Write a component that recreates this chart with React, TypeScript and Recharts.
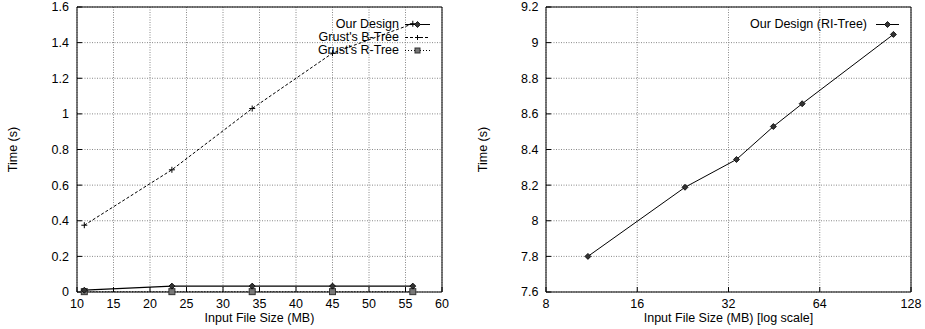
import React from 'react';
import { LineChart, Line, XAxis, YAxis, CartesianGrid, Legend } from 'recharts';

// ---- data ----
const sizes = [11, 23, 34, 45, 56];
const ourDesign = [0.01, 0.033, 0.033, 0.033, 0.033];
const bTree = [0.375, 0.686, 1.03, 1.341, 1.506];
const rTree = [0.002, 0.002, 0.002, 0.002, 0.002];

const riSizes = [11, 23, 34, 45, 56, 112];
const riTimes = [7.8, 8.188, 8.344, 8.529, 8.657, 9.046];

const leftXTicks = [10, 15, 20, 25, 30, 35, 40, 45, 50, 55, 60];
const leftYTicks = [0, 0.2, 0.4, 0.6, 0.8, 1, 1.2, 1.4, 1.6];
const rightXTicks = [8, 16, 32, 64, 128];
const rightYTicks = [7.6, 7.8, 8, 8.2, 8.4, 8.6, 8.8, 9, 9.2];

const leftData = sizes.map((s, i) => ({ size: s, our: ourDesign[i], btree: bTree[i], rtree: rTree[i] }));
const rightData = riSizes.map((s, i) => ({ size: s, ri: riTimes[i] }));

const FONT = '"Liberation Sans", Arial, Helvetica, sans-serif';
const FS = 12.5;
const tickStyle = { fontFamily: FONT, fontSize: FS, fill: '#000' };

// ---- markers ----
const Diamond = ({ cx, cy, r = 3 }: any) =>
  cx == null || cy == null ? null : (
    <path d={`M${cx},${cy - r}L${cx + r},${cy}L${cx},${cy + r}L${cx - r},${cy}Z`} fill="#333" stroke="#000" strokeWidth={0.8} />
  );
const Plus = ({ cx, cy, r = 2.5 }: any) =>
  cx == null || cy == null ? null : (
    <path d={`M${cx - r},${cy}H${cx + r}M${cx},${cy - r}V${cy + r}`} stroke="#000" strokeWidth={1} fill="none" />
  );
const Square = ({ cx, cy, r = 2.5 }: any) =>
  cx == null || cy == null ? null : (
    <rect x={cx - r} y={cy - r} width={2 * r} height={2 * r} fill="#777" stroke="#333" strokeWidth={1} />
  );

const markerFor = (kind: string, cx: number, cy: number) => {
  if (kind === 'diamond') return <Diamond cx={cx} cy={cy} />;
  if (kind === 'plus') return <Plus cx={cx} cy={cy} />;
  return <Square cx={cx} cy={cy} />;
};

type LegItem = { name: string; dash?: string; marker: string };

const makeLegend = (items: LegItem[], gap: number, len: number) => () => (
  <div style={{ fontFamily: FONT, fontSize: FS, color: '#000' }}>
    {items.map((it) => (
      <div key={it.name} style={{ display: 'flex', alignItems: 'center', justifyContent: 'flex-end', height: 13.3 }}>
        <span style={{ whiteSpace: 'nowrap', lineHeight: '13.3px' }}>{it.name}</span>
        <svg width={gap + len} height={13} style={{ display: 'block' }}>
          <line x1={gap} x2={gap + len} y1={6.5} y2={6.5} stroke="#000" strokeWidth={1} strokeDasharray={it.dash} />
          {markerFor(it.marker, gap + len / 2, 6.5)}
        </svg>
      </div>
    ))}
  </div>
);

const leftLegend = makeLegend(
  [
    { name: 'Our Design', marker: 'diamond' },
    { name: "Grust's B-Tree", dash: '3 2', marker: 'plus' },
    { name: "Grust's R-Tree", dash: '1 2', marker: 'square' },
  ],
  6,
  25
);
const rightLegend = makeLegend([{ name: 'Our Design (RI-Tree)', marker: 'diamond' }], 9, 23);

const gridProps = { stroke: '#888', strokeDasharray: '1 1.5', strokeWidth: 1 };

export default function App() {
  return (
    <div style={{ position: 'absolute', left: 0, top: 0, width: 925, height: 329, background: '#fff' }}>
      {/* Left chart */}
      <div style={{ position: 'absolute', left: 0, top: 0 }}>
        <LineChart width={462} height={329} data={leftData} margin={{ top: 0, right: 0, bottom: 0, left: 0 }}>
          <CartesianGrid {...gridProps} xAxisId="b" yAxisId="l" />
          <XAxis
            xAxisId="b"
            dataKey="size"
            type="number"
            domain={[10, 60]}
            ticks={leftXTicks}
            interval={0}
            height={37}
            tickSize={-5}
            tickMargin={12.5}
            tick={tickStyle}
            axisLine={{ stroke: '#000' }}
            tickLine={{ stroke: '#000' }}
          />
          <XAxis
            xAxisId="t"
            orientation="top"
            type="number"
            domain={[10, 60]}
            ticks={leftXTicks}
            interval={0}
            height={7}
            tickSize={-5}
            tick={false}
            axisLine={{ stroke: '#000' }}
            tickLine={{ stroke: '#000' }}
          />
          <YAxis
            yAxisId="l"
            type="number"
            domain={[0, 1.6]}
            ticks={leftYTicks}
            interval={0}
            width={77}
            tickSize={-5}
            tickMargin={13}
            tick={tickStyle}
            axisLine={{ stroke: '#000' }}
            tickLine={{ stroke: '#000' }}
          />
          <YAxis
            yAxisId="r"
            orientation="right"
            type="number"
            domain={[0, 1.6]}
            ticks={leftYTicks}
            interval={0}
            width={20}
            tickSize={-5}
            tick={false}
            axisLine={{ stroke: '#000' }}
            tickLine={{ stroke: '#000' }}
          />
          <Line xAxisId="b" yAxisId="l" dataKey="rtree" name="Grust's R-Tree" stroke="#000" strokeWidth={1} strokeDasharray="1 2" dot={<Square />} isAnimationActive={false} />
          <Line xAxisId="b" yAxisId="l" dataKey="btree" name="Grust's B-Tree" stroke="#000" strokeWidth={1} strokeDasharray="3 2" dot={<Plus />} isAnimationActive={false} />
          <Line xAxisId="b" yAxisId="l" dataKey="our" name="Our Design" stroke="#000" strokeWidth={1.2} dot={<Diamond />} isAnimationActive={false} />
          <Legend
            layout="vertical"
            align="center"
            verticalAlign="middle"
            content={leftLegend}
            wrapperStyle={{ top: 17.5, right: 32, left: 'auto', bottom: 'auto', width: 'auto' }}
          />
          <text x={13} y={149.5} transform="rotate(-90 13 149.5)" textAnchor="middle" dominantBaseline="central" fontFamily={FONT} fontSize={FS} fill="#000">
            Time (s)
          </text>
          <text x={259.5} y={321.5} textAnchor="middle" fontFamily={FONT} fontSize={FS} fill="#000">
            Input File Size (MB)
          </text>
        </LineChart>
      </div>

      {/* Right chart */}
      <div style={{ position: 'absolute', left: 462, top: 0 }}>
        <LineChart width={463} height={329} data={rightData} margin={{ top: 0, right: 0, bottom: 0, left: 0 }}>
          <CartesianGrid {...gridProps} xAxisId="b" yAxisId="l" />
          <XAxis
            xAxisId="b"
            dataKey="size"
            type="number"
            scale="log"
            domain={[8, 128]}
            ticks={rightXTicks}
            interval={0}
            height={37}
            tickSize={-5}
            tickMargin={12.5}
            tick={tickStyle}
            axisLine={{ stroke: '#000' }}
            tickLine={{ stroke: '#000' }}
            allowDataOverflow
          />
          <XAxis
            xAxisId="t"
            orientation="top"
            type="number"
            scale="log"
            domain={[8, 128]}
            ticks={rightXTicks}
            interval={0}
            height={7}
            tickSize={-5}
            tick={false}
            axisLine={{ stroke: '#000' }}
            tickLine={{ stroke: '#000' }}
            allowDataOverflow
          />
          <YAxis
            yAxisId="l"
            type="number"
            domain={[7.6, 9.2]}
            ticks={rightYTicks}
            interval={0}
            width={84}
            tickSize={-5}
            tickMargin={12.5}
            tick={tickStyle}
            axisLine={{ stroke: '#000' }}
            tickLine={{ stroke: '#000' }}
            allowDataOverflow
          />
          <YAxis
            yAxisId="r"
            orientation="right"
            type="number"
            domain={[7.6, 9.2]}
            ticks={rightYTicks}
            interval={0}
            width={14}
            tickSize={-5}
            tick={false}
            axisLine={{ stroke: '#000' }}
            tickLine={{ stroke: '#000' }}
            allowDataOverflow
          />
          <Line xAxisId="b" yAxisId="l" dataKey="ri" name="Our Design (RI-Tree)" stroke="#000" strokeWidth={1} dot={<Diamond />} isAnimationActive={false} />
          <Legend
            layout="vertical"
            align="center"
            verticalAlign="middle"
            content={rightLegend}
            wrapperStyle={{ top: 17.5, right: 26, left: 'auto', bottom: 'auto', width: 'auto' }}
          />
          <text x={20.7} y={149.5} transform="rotate(-90 20.7 149.5)" textAnchor="middle" dominantBaseline="central" fontFamily={FONT} fontSize={FS} fill="#000">
            Time (s)
          </text>
          <text x={266.5} y={321.5} textAnchor="middle" fontFamily={FONT} fontSize={FS} fill="#000">
            Input File Size (MB) [log scale]
          </text>
        </LineChart>
      </div>
    </div>
  );
}
